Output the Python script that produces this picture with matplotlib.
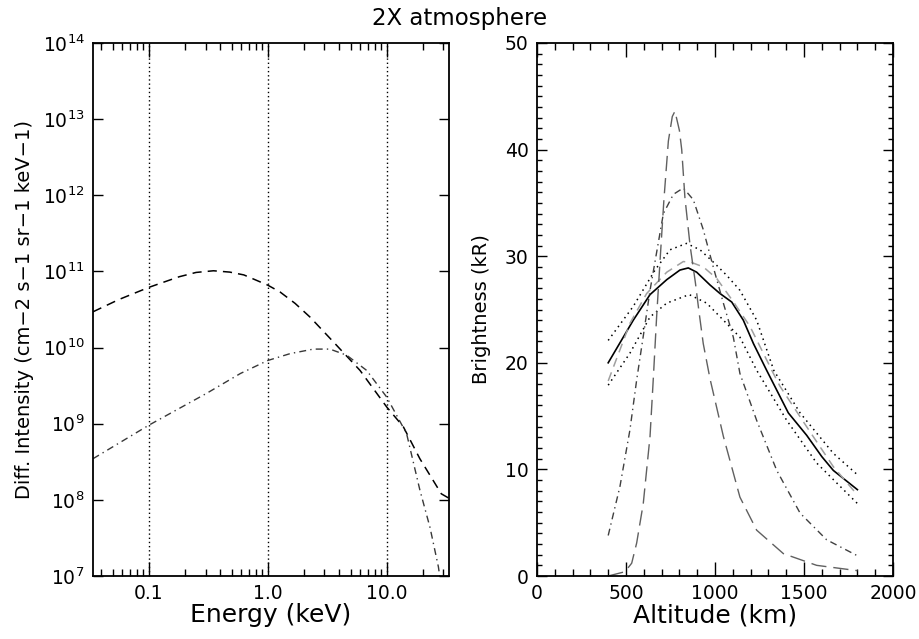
import matplotlib
matplotlib.use("Agg")
import matplotlib.pyplot as plt
from matplotlib.ticker import LogLocator, FixedLocator, MultipleLocator, NullFormatter, NullLocator

# left panel: differential intensity spectra
energy_dash = [0.034, 0.056, 0.1, 0.18, 0.25, 0.35, 0.48, 0.63, 1.0, 1.27, 1.7, 2.27, 3.56, 5.97, 10.0, 13.8, 19.0, 28.8, 33.4]
flux_dash = [2.95e10, 4.27e10, 6.17e10, 8.51e10, 9.7e10, 1.02e11, 9.8e10, 9.0e10, 6.61e10, 5.37e10, 3.8e10, 2.51e10,
             1.19e10, 5.01e9, 1.66e9, 9.12e8, 3.47e8, 1.20e8, 1.05e8]

energy_dashdot = [0.034, 0.1, 0.307, 0.59, 1.0, 1.54, 2.42, 3.33, 4.61, 6.79, 10.0, 14.7, 19.0, 23.1, 27.2, 28.2]
flux_dashdot = [3.47e8, 9.55e8, 2.51e9, 4.57e9, 6.76e9, 8.32e9, 9.55e9, 9.55e9, 7.94e9, 5.01e9, 2.24e9,
                7.41e8, 1.35e8, 4.37e7, 1.32e7, 8.9e6]

energy_marks = [0.1, 1.0, 10.0]
energy_minor = [0.04, 0.05, 0.06, 0.07, 0.08, 0.09, 0.2, 0.3, 0.4, 0.5, 0.6, 0.7, 0.8, 0.9,
                2, 3, 4, 5, 6, 7, 8, 9, 20, 30]

# right panel: brightness profiles vs altitude
alt_solid = [400, 541, 635, 729, 803, 850, 897, 972, 1028, 1094, 1159, 1216, 1290, 1412, 1515, 1600, 1665, 1800]
br_solid = [20.0, 24.0, 26.4, 27.8, 28.7, 28.9, 28.5, 27.3, 26.5, 25.7, 24.0, 21.8, 19.3, 15.3, 13.2, 11.2, 9.9, 8.1]

alt_gray = [400, 522, 616, 729, 822, 870, 934, 1010, 1100, 1197, 1328, 1365, 1515, 1665, 1800]
br_gray = [18.3, 23.7, 26.5, 28.5, 29.5, 29.4, 29.0, 27.9, 25.8, 23.4, 19.0, 17.8, 14.0, 10.25, 7.6]

alt_dot_hi = [400, 541, 663, 747, 840, 916, 1000, 1066, 1140, 1234, 1330, 1478, 1665, 1800]
br_dot_hi = [22.1, 25.3, 28.7, 30.6, 31.2, 30.6, 29.3, 28.2, 26.8, 24.0, 19.3, 15.3, 11.5, 9.5]

alt_dot_lo = [400, 522, 635, 729, 855, 953, 1047, 1140, 1234, 1403, 1571, 1800]
br_dot_lo = [17.9, 20.9, 24.3, 25.6, 26.4, 25.6, 24.0, 22.4, 19.3, 14.6, 10.6, 6.8]

alt_dashdot = [400, 466, 522, 560, 597, 635, 710, 766, 822, 878, 934, 990, 1047, 1103, 1140, 1234, 1347, 1478, 1627, 1800]
br_dashdot = [3.8, 8.4, 13.7, 18.4, 22.5, 26.8, 34.0, 35.8, 36.4, 35.3, 32.5, 29.0, 25.6, 22.4, 19.0, 14.6, 9.9, 5.9, 3.4, 1.9]

alt_long = [400, 494, 532, 560, 597, 635, 654, 672, 691, 713, 738, 760, 775, 800, 813, 831, 860, 890, 910, 934,
            972, 1047, 1140, 1234, 1384, 1571, 1800]
br_long = [0.0, 0.4, 1.2, 3.1, 6.8, 13.1, 18.7, 24.3, 29.5, 35.3, 40.8, 43.1, 43.6, 41.8, 40.0, 35.5, 31.0, 27.5, 24.8, 21.8,
           18.5, 13.1, 7.4, 4.3, 2.1, 1.0, 0.5]

plt.rcParams['font.family'] = 'DejaVu Sans'
fig = plt.figure(figsize=(9.2, 6.39), dpi=100)
ax1 = fig.add_axes([93 / 920, 1 - 576 / 639, 356 / 920, 533 / 639])
ax2 = fig.add_axes([537 / 920, 1 - 576 / 639, 356 / 920, 533 / 639])

# left panel
for e in energy_marks:
    ax1.axvline(e, color='black', lw=1.0, ls=(0, (1, 2)))
ax1.plot(energy_dash, flux_dash, color='black', lw=1.1, ls=(0, (6, 4)))
ax1.plot(energy_dashdot, flux_dashdot, color='#383838', lw=1.0, ls=(0, (5, 3, 1, 3)))
ax1.set_xscale('log')
ax1.set_yscale('log')
ax1.set_xlim(0.034, 33.4)
ax1.set_ylim(1e7, 1e14)
ax1.xaxis.set_major_locator(FixedLocator(energy_marks))
ax1.set_xticklabels(['0.1', '1.0', '10.0'])
ax1.xaxis.set_minor_locator(FixedLocator(energy_minor))
ax1.xaxis.set_minor_formatter(NullFormatter())
ax1.yaxis.set_major_locator(LogLocator(base=10, numticks=10))
ax1.yaxis.set_minor_locator(NullLocator())
ax1.set_xlabel('Energy (keV)', fontsize=18, labelpad=0)
ax1.set_ylabel('Diff. Intensity (cm\u22122 s\u22121 sr\u22121 keV\u22121)', fontsize=14, labelpad=6)

# right panel
ax2.plot(alt_solid, br_solid, color='black', lw=1.2, ls='-')
ax2.plot(alt_gray, br_gray, color='#a0a0a0', lw=1.1, ls=(0, (6, 4)))
ax2.plot(alt_dot_hi, br_dot_hi, color='black', lw=1.1, ls=(0, (1, 2.6)))
ax2.plot(alt_dot_lo, br_dot_lo, color='black', lw=1.1, ls=(0, (1, 2.6)))
ax2.plot(alt_dashdot, br_dashdot, color='#404040', lw=1.0, ls=(0, (5, 3, 1, 3)))
ax2.plot(alt_long, br_long, color='#606060', lw=1.0, ls=(0, (11, 5)))
ax2.set_xlim(0, 2000)
ax2.set_ylim(0, 50)
ax2.xaxis.set_major_locator(MultipleLocator(500))
ax2.xaxis.set_minor_locator(MultipleLocator(100))
ax2.yaxis.set_major_locator(MultipleLocator(10))
ax2.yaxis.set_minor_locator(MultipleLocator(1))
ax2.set_xlabel('Altitude (km)', fontsize=18, labelpad=0)
ax2.set_ylabel('Brightness (kR)', fontsize=14, labelpad=10)

for ax in (ax1, ax2):
    ax.tick_params(which='both', direction='in', top=True, right=True, labelsize=13.5, width=1.0, pad=6)
    ax.tick_params(which='major', length=7)
    ax.tick_params(which='minor', length=4)
    for s in ax.spines.values():
        s.set_linewidth(1.3)
ax1.tick_params(axis='x', which='major', length=10)
ax1.tick_params(axis='x', which='minor', length=5)
ax2.tick_params(axis='x', which='major', length=10)
ax2.tick_params(axis='x', which='minor', length=5)
ax2.tick_params(axis='y', which='minor', length=3.5)

fig.text(0.5, 1 - 18 / 639, '2X atmosphere', ha='center', va='center', fontsize=16.5)

fig.savefig('out.png', dpi=100)
